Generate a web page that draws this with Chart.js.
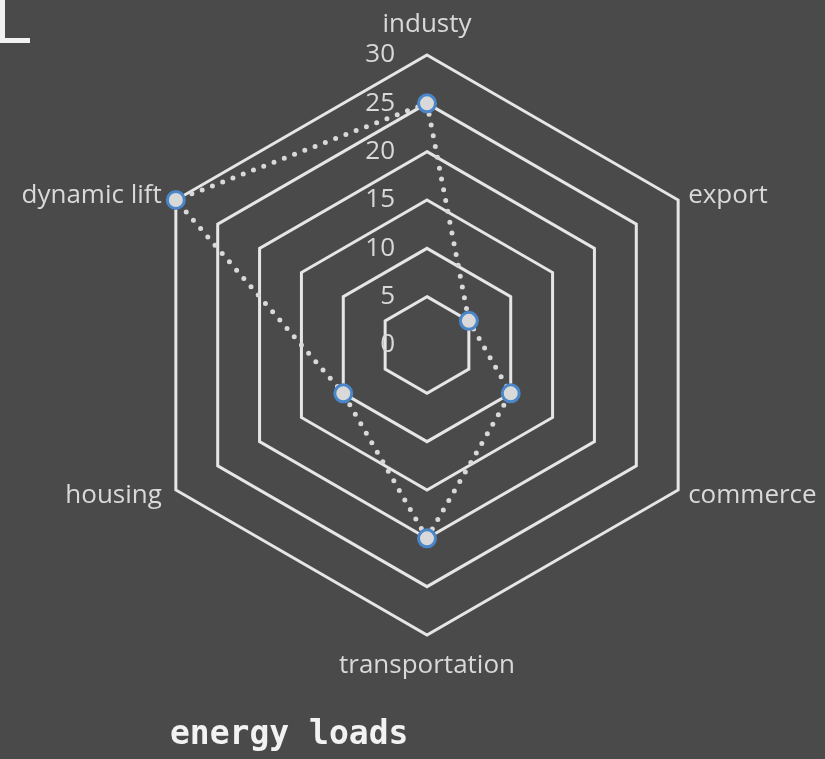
<!DOCTYPE html>
<html>
<head>
<meta charset="utf-8">
<script src="https://cdn.jsdelivr.net/npm/chart.js@4.4.1/dist/chart.umd.min.js"></script>
<style>
  html, body { margin: 0; padding: 0; background: #4a4a4a; }
  #wrap { position: relative; width: 825px; height: 759px; overflow: hidden; }
  #corner { position: absolute; left: 0; top: 0; width: 25px; height: 38px;
    border-left: 5px solid #f2f2f2; border-bottom: 5px solid #f2f2f2; }
  #title { position: absolute; left: 170px; top: 716px; font: bold 33px "DejaVu Sans Mono", monospace;
    line-height: 1; color: #f2f2f2; white-space: pre; }
</style>
</head>
<body>
<div id="wrap">
  <canvas id="chart"></canvas>
  <div id="corner"></div>
  <div id="title">energy loads</div>
</div>
<script>
// data
const categories = ["industy", "export", "commerce", "transportation", "housing", "dynamic lift"];
const energyLoads = [25, 5, 10, 20, 10, 30];
const tickValues = [0, 5, 10, 15, 20, 25, 30];

const textColor = "#d9d9d9";

// tick labels sit left of the top axis, point labels just outside the outer ring
const radarText = {
  id: "radarText",
  beforeDatasetsDraw(chart) {
    const r = chart.scales.r;
    const ctx = chart.ctx;
    ctx.save();
    ctx.fillStyle = textColor;
    ctx.font = "26px 'Open Sans'";

    ctx.textAlign = "right";
    ctx.textBaseline = "middle";
    r.ticks.forEach(t => {
      ctx.fillText(String(t.value), r.xCenter - 32, r.yCenter - r.getDistanceFromCenterForValue(t.value));
    });

    ctx.textBaseline = "alphabetic";
    chart.data.labels.forEach((label, i) => {
      const p = r.getPointPosition(i, r.drawingArea);
      const dx = p.x - r.xCenter;
      const dy = p.y - r.yCenter;
      let x = p.x, y = p.y;
      if (Math.abs(dx) < 1) {
        ctx.textAlign = "center";
        y += dy < 0 ? -23 : 38;
      } else {
        ctx.textAlign = dx > 0 ? "left" : "right";
        x += dx > 0 ? 10 : -14;
        y += dy < 0 ? 3 : 13;
      }
      ctx.fillText(label, x, y);
    });
    ctx.restore();
  }
};

new Chart(document.getElementById("chart"), {
  type: "radar",
  data: {
    labels: categories,
    datasets: [{
      data: energyLoads,
      borderColor: "#d9d9d9",
      borderWidth: 5,
      borderDash: [0, 11],
      borderCapStyle: "round",
      fill: false,
      tension: 0,
      pointRadius: 8.5,
      pointBorderWidth: 3,
      pointBackgroundColor: "#d9d9d9",
      pointBorderColor: "#4a86c8",
    }],
  },
  options: {
    responsive: true,
    maintainAspectRatio: false,
    animation: false,
    layout: { padding: { left: 137, top: 55, right: 108, bottom: 124 } },
    plugins: {
      legend: { display: false },
      title: { display: false },
      tooltip: { enabled: false },
    },
    scales: {
      r: {
        min: 0,
        max: 30,
        afterBuildTicks: s => { s.ticks = tickValues.map(v => ({ value: v })); },
        ticks: { display: false },
        pointLabels: { display: false },
        angleLines: { display: false },
        grid: { color: "#e6e6e6", lineWidth: 3, circular: false },
      },
    },
  },
  plugins: [radarText],
});
</script>
</body>
</html>
